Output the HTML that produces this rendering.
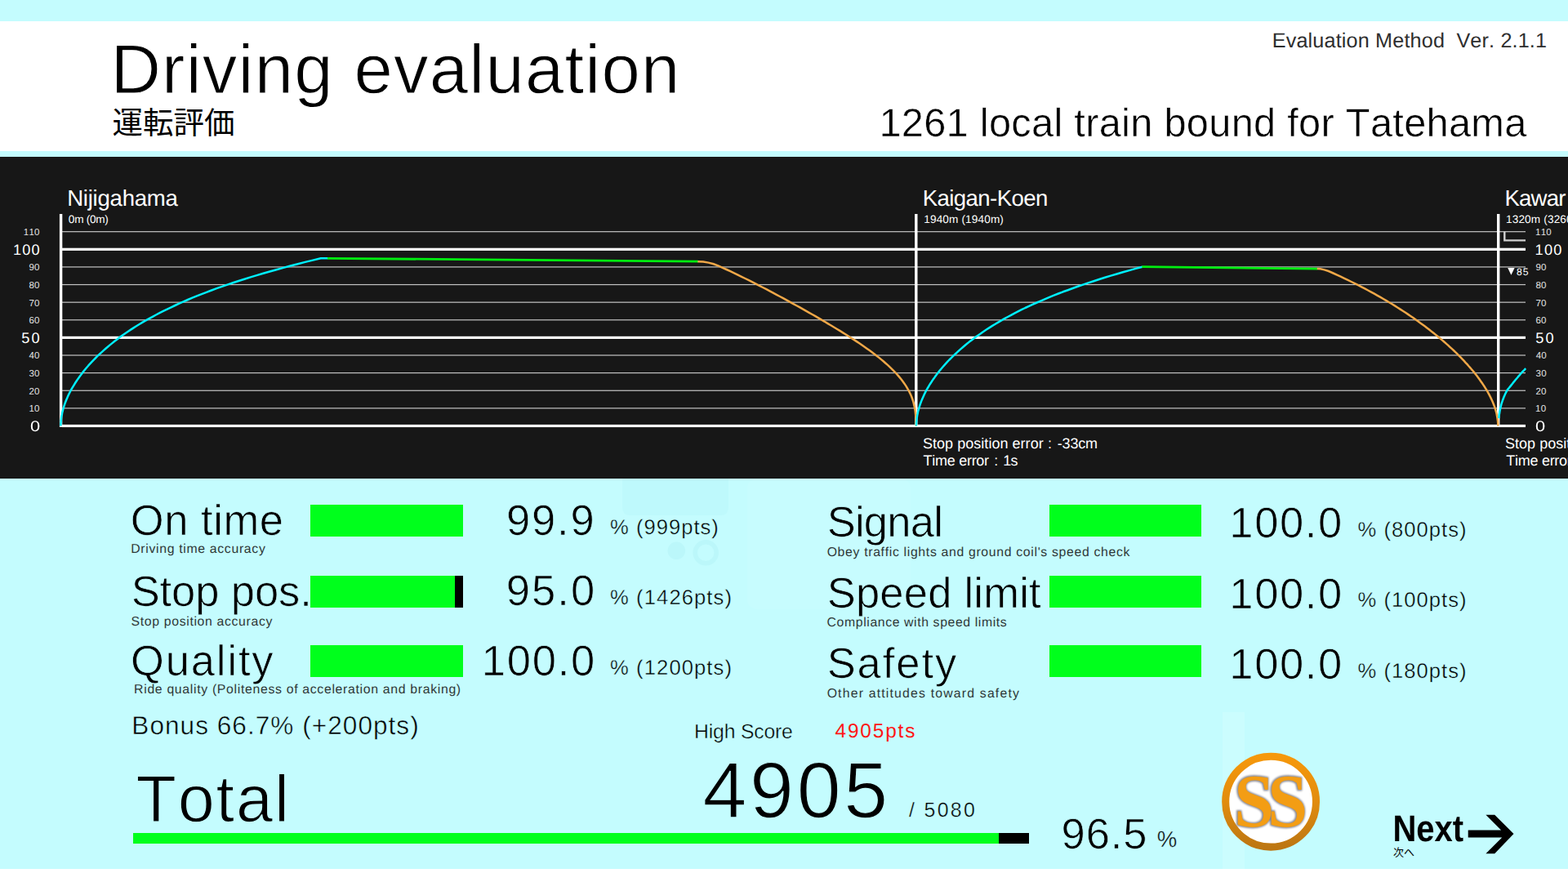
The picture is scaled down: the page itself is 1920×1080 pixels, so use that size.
<!DOCTYPE html>
<html lang="en"><head><meta charset="utf-8"><title>Driving evaluation</title>
<style>
html,body{margin:0;padding:0;overflow:hidden;background:#c4fcfe}
body{width:1920px;height:1080px;font-family:"Liberation Sans",sans-serif}
#root{position:relative;width:1920px;height:1080px;overflow:hidden;background:#c4fcfe}
.a{position:absolute;display:block}
.t{position:absolute;white-space:nowrap;margin:0;font-kerning:none;font-variant-ligatures:none;text-rendering:geometricPrecision}
#hdr{left:0;top:25.5px;width:1920px;height:159px;background:#fff}
#panel{left:0;top:192px;width:1920px;height:394px;background:#171717}
#foot{left:0;top:1064px;width:1920px;height:16px;background:#fff}
</style></head><body><div id="root">
<div id="hdr" class="a"></div>
<div id="panel" class="a"></div>
<div id="foot" class="a"></div>
<svg class="a" style="left:0;top:586px" width="1920" height="478" viewBox="0 586 1920 478" aria-hidden="true">
<path d="M762 586H892V621Q892 631 882 631H772Q762 631 762 621Z" fill="#bef9fc"/>
<rect x="915" y="586" width="200" height="160" rx="12" fill="#c7fcfe"/>
<circle cx="828.3" cy="674.3" r="10.8" fill="#bbf7fa"/>
<circle cx="864.2" cy="676.8" r="13" fill="none" stroke="#bbf7fa" stroke-width="5.6"/>
<rect x="1497" y="872" width="27" height="192" fill="#cbfdfe"/>
</svg>
<svg class="a" style="left:0;top:192px" width="1920" height="394" viewBox="0 192 1920 394">
<rect x="76" y="283.08" width="1792" height="1.2" fill="#c4c4c4"/>
<rect x="76" y="326.32" width="1792" height="1.2" fill="#c4c4c4"/>
<rect x="76" y="347.94" width="1792" height="1.2" fill="#c4c4c4"/>
<rect x="76" y="369.56" width="1792" height="1.2" fill="#c4c4c4"/>
<rect x="76" y="391.18" width="1792" height="1.2" fill="#c4c4c4"/>
<rect x="76" y="434.42" width="1792" height="1.2" fill="#c4c4c4"/>
<rect x="76" y="456.04" width="1792" height="1.2" fill="#c4c4c4"/>
<rect x="76" y="477.66" width="1792" height="1.2" fill="#c4c4c4"/>
<rect x="76" y="499.28" width="1792" height="1.2" fill="#c4c4c4"/>
<rect x="76" y="303.70" width="1792" height="3.2" fill="#fff"/>
<rect x="76" y="411.80" width="1792" height="3.2" fill="#fff"/>
<rect x="76" y="519.90" width="1792" height="3.2" fill="#fff"/>
<rect x="72.9" y="262" width="3.4" height="261.0" fill="#fff"/>
<rect x="1120.1" y="262" width="3.4" height="261.0" fill="#fff"/>
<rect x="1833" y="262" width="3.4" height="261.0" fill="#fff"/>
<path d="M1842.3 283.5V294.4H1868" fill="none" stroke="#cfcfcf" stroke-width="2.4"/>
<path d="M74.4 521.5 L74.4 519.2 L74.6 516.9 L74.7 514.6 L75.0 512.3 L75.3 510.0 L75.8 507.7 L76.2 505.4 L76.8 503.1 L77.4 500.8 L78.1 498.4 L78.8 496.1 L79.6 493.8 L80.5 491.5 L81.4 489.2 L82.4 486.9 L83.4 484.6 L84.5 482.3 L85.7 480.0 L86.9 477.7 L88.2 475.4 L89.6 473.1 L91.0 470.8 L92.4 468.5 L93.9 466.2 L95.5 463.9 L97.2 461.6 L98.9 459.3 L100.6 457.0 L102.4 454.6 L104.3 452.3 L106.2 450.0 L108.2 447.7 L110.3 445.4 L112.4 443.1 L114.6 440.8 L116.9 438.5 L119.2 436.2 L121.6 433.9 L124.1 431.6 L126.6 429.3 L129.2 427.0 L131.9 424.7 L134.7 422.4 L137.5 420.1 L140.4 417.8 L143.5 415.5 L146.5 413.1 L149.7 410.8 L153.0 408.5 L156.3 406.2 L159.8 403.9 L163.3 401.6 L167.0 399.3 L170.7 397.0 L174.6 394.7 L178.5 392.4 L182.6 390.1 L186.8 387.8 L191.1 385.5 L195.5 383.2 L200.0 380.9 L204.7 378.6 L209.5 376.3 L214.4 374.0 L219.4 371.7 L224.6 369.3 L230.0 367.0 L235.5 364.7 L241.1 362.4 L246.9 360.1 L252.9 357.8 L259.0 355.5 L265.3 353.2 L271.8 350.9 L278.4 348.6 L285.2 346.3 L292.2 344.0 L299.4 341.7 L306.8 339.4 L314.4 337.1 L322.3 334.8 L330.3 332.5 L338.5 330.2 L347.0 327.9 L355.7 325.5 L364.6 323.2 L373.7 320.9 L383.1 318.6 L392.8 316.3 L401.5 316.3" fill="none" stroke="#00f0ff" stroke-width="2.5" stroke-linejoin="round" stroke-linecap="butt"/>
<path d="M401.0 316.3 L855.0 320.2" fill="none" stroke="#00ee10" stroke-width="2.8" stroke-linejoin="round" stroke-linecap="butt"/>
<path d="M1121.6 521.5 L1121.6 519.3 L1121.6 517.1 L1121.5 514.9 L1121.5 512.7 L1121.4 510.5 L1121.2 508.3 L1121.0 506.1 L1120.8 503.9 L1120.5 501.7 L1120.1 499.5 L1119.6 497.3 L1119.1 495.1 L1118.6 492.9 L1117.9 490.7 L1117.2 488.5 L1116.4 486.3 L1115.5 484.1 L1114.5 481.9 L1113.4 479.7 L1112.2 477.5 L1111.0 475.3 L1109.7 473.1 L1108.2 470.9 L1106.7 468.7 L1105.1 466.5 L1103.4 464.3 L1101.6 462.1 L1099.7 459.9 L1097.8 457.7 L1095.7 455.5 L1093.6 453.3 L1091.3 451.1 L1089.0 448.9 L1086.6 446.7 L1084.1 444.5 L1081.6 442.3 L1079.0 440.1 L1076.3 437.9 L1073.5 435.7 L1070.6 433.5 L1067.7 431.3 L1064.7 429.1 L1061.7 426.9 L1058.6 424.7 L1055.4 422.5 L1052.2 420.3 L1048.9 418.1 L1045.5 415.9 L1042.1 413.7 L1038.7 411.5 L1035.2 409.3 L1031.7 407.1 L1028.2 404.9 L1024.6 402.7 L1020.9 400.5 L1017.2 398.3 L1013.5 396.1 L1009.8 393.8 L1006.0 391.6 L1002.2 389.4 L998.4 387.2 L994.6 385.0 L990.7 382.8 L986.8 380.6 L982.9 378.4 L979.0 376.2 L975.0 374.0 L971.0 371.8 L967.0 369.6 L963.0 367.4 L959.0 365.2 L954.9 363.0 L950.8 360.8 L946.7 358.6 L942.5 356.4 L938.4 354.2 L934.1 352.0 L929.9 349.8 L925.6 347.6 L921.3 345.4 L916.9 343.2 L912.5 341.0 L908.0 338.8 L903.5 336.6 L898.9 334.4 L894.3 332.2 L889.6 330.0 L884.8 327.8 L879.9 325.6 Q867.9 320.2 854.4 320.2" fill="none" stroke="#f0a848" stroke-width="2.5" stroke-linejoin="round" stroke-linecap="butt"/>
<path d="M1122.0 521.5 L1122.0 519.3 L1122.1 517.1 L1122.3 514.9 L1122.6 512.7 L1122.9 510.6 L1123.2 508.4 L1123.7 506.2 L1124.1 504.0 L1124.7 501.8 L1125.3 499.6 L1126.0 497.4 L1126.7 495.2 L1127.5 493.0 L1128.3 490.9 L1129.2 488.7 L1130.2 486.5 L1131.2 484.3 L1132.2 482.1 L1133.3 479.9 L1134.5 477.7 L1135.7 475.5 L1137.0 473.3 L1138.3 471.2 L1139.7 469.0 L1141.1 466.8 L1142.6 464.6 L1144.2 462.4 L1145.7 460.2 L1147.4 458.0 L1149.1 455.8 L1150.8 453.6 L1152.6 451.5 L1154.5 449.3 L1156.4 447.1 L1158.4 444.9 L1160.4 442.7 L1162.5 440.5 L1164.7 438.3 L1166.9 436.1 L1169.2 434.0 L1171.5 431.8 L1173.9 429.6 L1176.4 427.4 L1178.9 425.2 L1181.5 423.0 L1184.2 420.8 L1186.9 418.6 L1189.8 416.4 L1192.7 414.3 L1195.6 412.1 L1198.7 409.9 L1201.8 407.7 L1205.0 405.5 L1208.3 403.3 L1211.7 401.1 L1215.2 398.9 L1218.8 396.7 L1222.4 394.6 L1226.2 392.4 L1230.0 390.2 L1234.0 388.0 L1238.1 385.8 L1242.2 383.6 L1246.5 381.4 L1250.9 379.2 L1255.4 377.0 L1260.0 374.9 L1264.8 372.7 L1269.7 370.5 L1274.7 368.3 L1279.8 366.1 L1285.1 363.9 L1290.5 361.7 L1296.0 359.5 L1301.7 357.3 L1307.6 355.2 L1313.6 353.0 L1319.7 350.8 L1326.0 348.6 L1332.5 346.4 L1339.2 344.2 L1346.0 342.0 L1353.0 339.8 L1360.1 337.6 L1367.5 335.5 L1375.0 333.3 L1382.8 331.1 L1390.7 328.9 L1398.9 326.7" fill="none" stroke="#00f0ff" stroke-width="2.5" stroke-linejoin="round" stroke-linecap="butt"/>
<path d="M1398.4 326.7 L1613.2 329.1" fill="none" stroke="#00ee10" stroke-width="2.8" stroke-linejoin="round" stroke-linecap="butt"/>
<path d="M1834.3 521.5 L1834.3 519.4 L1834.2 517.3 L1834.0 515.2 L1833.7 513.1 L1833.4 511.0 L1833.0 508.9 L1832.6 506.8 L1832.1 504.7 L1831.5 502.6 L1830.9 500.5 L1830.2 498.4 L1829.4 496.3 L1828.6 494.2 L1827.7 492.1 L1826.8 490.0 L1825.8 487.9 L1824.8 485.8 L1823.7 483.7 L1822.6 481.6 L1821.4 479.5 L1820.2 477.4 L1818.9 475.3 L1817.6 473.2 L1816.2 471.1 L1814.8 469.0 L1813.3 466.9 L1811.8 464.8 L1810.3 462.7 L1808.7 460.6 L1807.1 458.5 L1805.4 456.4 L1803.7 454.3 L1801.9 452.2 L1800.1 450.1 L1798.2 448.0 L1796.4 445.9 L1794.4 443.8 L1792.5 441.7 L1790.5 439.6 L1788.4 437.4 L1786.3 435.3 L1784.2 433.2 L1782.1 431.1 L1779.9 429.0 L1777.6 426.9 L1775.3 424.8 L1773.0 422.7 L1770.7 420.6 L1768.3 418.5 L1765.8 416.4 L1763.3 414.3 L1760.8 412.2 L1758.3 410.1 L1755.7 408.0 L1753.0 405.9 L1750.3 403.8 L1747.6 401.7 L1744.8 399.6 L1742.0 397.5 L1739.1 395.4 L1736.2 393.3 L1733.3 391.2 L1730.3 389.1 L1727.2 387.0 L1724.1 384.9 L1721.0 382.8 L1717.8 380.7 L1714.5 378.6 L1711.2 376.5 L1707.9 374.4 L1704.5 372.3 L1701.0 370.2 L1697.5 368.1 L1693.9 366.0 L1690.3 363.9 L1686.6 361.8 L1682.8 359.7 L1679.0 357.6 L1675.1 355.5 L1671.2 353.4 L1667.2 351.3 L1663.1 349.2 L1659.0 347.1 L1654.7 345.0 L1650.4 342.9 L1646.1 340.8 L1641.6 338.7 L1637.1 336.6 L1632.5 334.5 Q1620.6 329.1 1612.7 329.1" fill="none" stroke="#f0a848" stroke-width="2.5" stroke-linejoin="round" stroke-linecap="butt"/>
<path d="M1835.3 512.2 L1835.5 510.6 L1835.6 509.1 L1835.8 507.5 L1836.1 506.0 L1836.3 504.4 L1836.6 502.8 L1836.9 501.3 L1837.2 499.7 L1837.6 498.1 L1838.0 496.6 L1838.4 495.0 L1838.9 493.4 L1839.4 491.9 L1839.9 490.3 L1840.5 488.8 L1841.1 487.2 L1841.7 485.6 L1842.4 484.1 L1843.1 482.5 L1843.9 480.9 L1844.7 479.4 L1845.6 477.8 L1846.7 476.2 L1848.0 474.7 L1849.3 473.1 L1850.5 471.6 L1851.8 470.0 L1853.0 468.4 L1854.3 466.9 L1855.6 465.3 L1856.9 463.7 L1858.2 462.2 L1859.5 460.6 L1860.9 459.1 L1862.2 457.5 L1863.7 455.9 L1865.1 454.4 L1866.7 452.8 L1868.2 451.2" fill="none" stroke="#00f0ff" stroke-width="2.5" stroke-linejoin="round" stroke-linecap="butt"/>
</svg>
<div class="t" style="left:135.47px;top:34.55px;font-size:85.1px;line-height:102px;letter-spacing:1.204px;color:#000;-webkit-text-stroke:1.1px #fff;">Driving evaluation</div>
<svg class="a" style="left:138px;top:133.4px;overflow:visible" width="149.0" height="33.8" viewBox="0 0 149.0 33.8" role="img" aria-label="運転評価"><text x="-0.5" y="30.5" font-size="37.5" fill="#000" font-family="'Liberation Sans','Noto Sans CJK JP',sans-serif">運転評価</text></svg>
<div class="t" style="left:1557.73px;top:34.80px;font-size:25.2px;line-height:30px;letter-spacing:0.160px;color:#2e2e2e;white-space:pre;">Evaluation Method  Ver. 2.1.1</div>
<div class="t" style="left:1076.44px;top:122.05px;font-size:48.73px;line-height:58px;letter-spacing:0.298px;color:#000;-webkit-text-stroke:0.5px #fff;">1261 local train bound for Tatehama</div>
<div class="t" style="left:82.14px;top:225.80px;font-size:27.6px;line-height:33px;letter-spacing:-0.245px;color:#fff;">Nijigahama</div>
<div class="t" style="left:83.87px;top:260.70px;font-size:13.6px;line-height:16px;letter-spacing:-0.274px;color:#fff;">0m (0m)</div>
<div class="t" style="left:1129.74px;top:225.80px;font-size:27.6px;line-height:33px;letter-spacing:-0.593px;color:#fff;">Kaigan-Koen</div>
<div class="t" style="left:1131.26px;top:260.70px;font-size:13.6px;line-height:16px;letter-spacing:0.140px;color:#fff;">1940m (1940m)</div>
<div class="t" style="left:1842.44px;top:225.80px;font-size:27.6px;line-height:33px;letter-spacing:-0.827px;color:#fff;">Kawar</div>
<div class="t" style="left:1843.96px;top:260.70px;font-size:13.6px;line-height:16px;letter-spacing:0.156px;color:#fff;white-space:pre;">1320m (3260m)</div>
<div class="t" style="left:1129.98px;top:531.70px;font-size:18px;line-height:22px;letter-spacing:0.036px;color:#fff;">Stop position error</div>
<div class="t" style="left:1282.96px;top:531.70px;font-size:18px;line-height:22px;letter-spacing:0.000px;color:#fff;">:</div>
<div class="t" style="left:1294.80px;top:531.70px;font-size:18px;line-height:22px;letter-spacing:-0.206px;color:#fff;">-33cm</div>
<div class="t" style="left:1130.60px;top:552.60px;font-size:18px;line-height:22px;letter-spacing:-0.278px;color:#fff;">Time error</div>
<div class="t" style="left:1217.36px;top:552.60px;font-size:18px;line-height:22px;letter-spacing:0.000px;color:#fff;">:</div>
<div class="t" style="left:1228.13px;top:552.60px;font-size:18px;line-height:22px;letter-spacing:-0.689px;color:#fff;">1s</div>
<div class="t" style="left:1842.98px;top:531.80px;font-size:18px;line-height:22px;letter-spacing:0.036px;color:#fff;">Stop position error</div>
<div class="t" style="left:1844.30px;top:552.70px;font-size:18px;line-height:22px;letter-spacing:-0.278px;color:#fff;">Time error</div>
<svg class="a" style="left:1846px;top:328px" width="9" height="9" viewBox="0 0 9 9"><path d="M0.2 0H8.6L4.4 8.8Z" fill="#fff"/></svg>
<div class="t" style="left:1857.07px;top:325.80px;font-size:12.2px;line-height:15px;letter-spacing:0.872px;color:#fff;">85</div>
<div class="t" style="left:38.59px;top:511.06px;font-size:18.2px;line-height:22px;letter-spacing:0.000px;color:#fff;transform:scaleX(1.2);transform-origin:100% 0;">0</div>
<div class="t" style="left:1880.49px;top:511.06px;font-size:18.2px;line-height:22px;letter-spacing:0.000px;color:#fff;transform:scaleX(1.2);transform-origin:0 0;">0</div>
<div class="t" style="left:35.46px;top:494.34px;font-size:11.5px;line-height:14px;letter-spacing:0.200px;color:#e4e4e4;">10</div>
<div class="t" style="left:1880.12px;top:494.34px;font-size:11.5px;line-height:14px;letter-spacing:0.200px;color:#e4e4e4;">10</div>
<div class="t" style="left:35.46px;top:472.72px;font-size:11.5px;line-height:14px;letter-spacing:0.200px;color:#e4e4e4;">20</div>
<div class="t" style="left:1880.42px;top:472.72px;font-size:11.5px;line-height:14px;letter-spacing:0.200px;color:#e4e4e4;">20</div>
<div class="t" style="left:35.46px;top:451.10px;font-size:11.5px;line-height:14px;letter-spacing:0.200px;color:#e4e4e4;">30</div>
<div class="t" style="left:1880.56px;top:451.10px;font-size:11.5px;line-height:14px;letter-spacing:0.200px;color:#e4e4e4;">30</div>
<div class="t" style="left:35.46px;top:429.48px;font-size:11.5px;line-height:14px;letter-spacing:0.200px;color:#e4e4e4;">40</div>
<div class="t" style="left:1880.74px;top:429.48px;font-size:11.5px;line-height:14px;letter-spacing:0.200px;color:#e4e4e4;">40</div>
<div class="t" style="left:26.27px;top:402.96px;font-size:18.2px;line-height:22px;letter-spacing:2.196px;color:#fff;">50</div>
<div class="t" style="left:1880.27px;top:402.96px;font-size:18.2px;line-height:22px;letter-spacing:2.196px;color:#fff;">50</div>
<div class="t" style="left:35.46px;top:386.24px;font-size:11.5px;line-height:14px;letter-spacing:0.200px;color:#e4e4e4;">60</div>
<div class="t" style="left:1880.42px;top:386.24px;font-size:11.5px;line-height:14px;letter-spacing:0.200px;color:#e4e4e4;">60</div>
<div class="t" style="left:35.46px;top:364.62px;font-size:11.5px;line-height:14px;letter-spacing:0.200px;color:#e4e4e4;">70</div>
<div class="t" style="left:1880.41px;top:364.62px;font-size:11.5px;line-height:14px;letter-spacing:0.200px;color:#e4e4e4;">70</div>
<div class="t" style="left:35.46px;top:343.00px;font-size:11.5px;line-height:14px;letter-spacing:0.200px;color:#e4e4e4;">80</div>
<div class="t" style="left:1880.50px;top:343.00px;font-size:11.5px;line-height:14px;letter-spacing:0.200px;color:#e4e4e4;">80</div>
<div class="t" style="left:35.46px;top:321.38px;font-size:11.5px;line-height:14px;letter-spacing:0.200px;color:#e4e4e4;">90</div>
<div class="t" style="left:1880.46px;top:321.38px;font-size:11.5px;line-height:14px;letter-spacing:0.200px;color:#e4e4e4;">90</div>
<div class="t" style="left:15.91px;top:294.86px;font-size:18.2px;line-height:22px;letter-spacing:1.216px;color:#fff;">100</div>
<div class="t" style="left:1879.61px;top:294.86px;font-size:18.2px;line-height:22px;letter-spacing:1.216px;color:#fff;">100</div>
<div class="t" style="left:28.86px;top:278.14px;font-size:11.5px;line-height:14px;letter-spacing:0.200px;color:#e4e4e4;">110</div>
<div class="t" style="left:1880.12px;top:278.14px;font-size:11.5px;line-height:14px;letter-spacing:0.200px;color:#e4e4e4;">110</div>
<div class="t" style="left:159.76px;top:605.85px;font-size:52.52px;line-height:63px;letter-spacing:0.558px;color:#000;-webkit-text-stroke:0.7px #c4fcfe;">On time</div>
<div class="t" style="left:160.20px;top:662.50px;font-size:15.8px;line-height:19px;letter-spacing:0.680px;color:#2f3838;">Driving time accuracy</div>
<div class="a" style="left:380px;top:618.1px;width:186.5px;height:38.9px;background:#000"><div style="width:186.5px;height:100%;background:#00ff1c"></div></div>
<div class="t" style="left:619.89px;top:605.65px;font-size:52.52px;line-height:63px;letter-spacing:1.910px;color:#000;-webkit-text-stroke:0.7px #c4fcfe;">99.9</div>
<div class="t" style="left:747.09px;top:630.60px;font-size:25.58px;line-height:31px;letter-spacing:1.012px;color:#000;-webkit-text-stroke:0.4px #c4fcfe;">% (999pts)</div>
<div class="t" style="left:160.67px;top:692.55px;font-size:52.52px;line-height:63px;letter-spacing:-0.090px;color:#000;-webkit-text-stroke:0.7px #c4fcfe;">Stop pos.</div>
<div class="t" style="left:160.58px;top:751.90px;font-size:15.8px;line-height:19px;letter-spacing:0.661px;color:#2f3838;">Stop position accuracy</div>
<div class="a" style="left:380px;top:704.6px;width:186.5px;height:39.4px;background:#000"><div style="width:177.2px;height:100%;background:#00ff1c"></div></div>
<div class="t" style="left:619.69px;top:691.95px;font-size:52.52px;line-height:63px;letter-spacing:2.098px;color:#000;-webkit-text-stroke:0.7px #c4fcfe;">95.0</div>
<div class="t" style="left:747.09px;top:716.70px;font-size:25.58px;line-height:31px;letter-spacing:1.098px;color:#000;-webkit-text-stroke:0.4px #c4fcfe;">% (1426pts)</div>
<div class="t" style="left:160.06px;top:778.25px;font-size:52.52px;line-height:63px;letter-spacing:1.855px;color:#000;-webkit-text-stroke:0.7px #c4fcfe;">Quality</div>
<div class="t" style="left:164.10px;top:835.30px;font-size:15.8px;line-height:19px;letter-spacing:0.685px;color:#2f3838;">Ride quality (Politeness of acceleration and braking)</div>
<div class="a" style="left:380px;top:789.6px;width:186.5px;height:39.7px;background:#000"><div style="width:186.5px;height:100%;background:#00ff1c"></div></div>
<div class="t" style="left:589.85px;top:778.35px;font-size:52.52px;line-height:63px;letter-spacing:1.731px;color:#000;-webkit-text-stroke:0.7px #c4fcfe;">100.0</div>
<div class="t" style="left:747.09px;top:803.00px;font-size:25.58px;line-height:31px;letter-spacing:1.098px;color:#000;-webkit-text-stroke:0.4px #c4fcfe;">% (1200pts)</div>
<div class="t" style="left:1012.67px;top:607.95px;font-size:52.52px;line-height:63px;letter-spacing:-0.739px;color:#000;-webkit-text-stroke:0.7px #c4fcfe;">Signal</div>
<div class="t" style="left:1012.65px;top:667.10px;font-size:15.8px;line-height:19px;letter-spacing:0.673px;color:#2f3838;">Obey traffic lights and ground coil's speed check</div>
<div class="a" style="left:1285px;top:618.1px;width:186px;height:38.9px;background:#000"><div style="width:186.0px;height:100%;background:#00ff1c"></div></div>
<div class="t" style="left:1505.35px;top:608.85px;font-size:52.52px;line-height:63px;letter-spacing:1.606px;color:#000;-webkit-text-stroke:0.7px #c4fcfe;">100.0</div>
<div class="t" style="left:1662.59px;top:633.90px;font-size:25.58px;line-height:31px;letter-spacing:1.023px;color:#000;-webkit-text-stroke:0.4px #c4fcfe;">% (800pts)</div>
<div class="t" style="left:1012.67px;top:694.85px;font-size:52.52px;line-height:63px;letter-spacing:0.216px;color:#000;-webkit-text-stroke:0.7px #c4fcfe;">Speed limit</div>
<div class="t" style="left:1012.60px;top:753.20px;font-size:15.8px;line-height:19px;letter-spacing:0.609px;color:#2f3838;">Compliance with speed limits</div>
<div class="a" style="left:1285px;top:704.7px;width:186px;height:39.3px;background:#000"><div style="width:186.0px;height:100%;background:#00ff1c"></div></div>
<div class="t" style="left:1505.35px;top:695.55px;font-size:52.52px;line-height:63px;letter-spacing:1.606px;color:#000;-webkit-text-stroke:0.7px #c4fcfe;">100.0</div>
<div class="t" style="left:1662.59px;top:720.40px;font-size:25.58px;line-height:31px;letter-spacing:1.023px;color:#000;-webkit-text-stroke:0.4px #c4fcfe;">% (100pts)</div>
<div class="t" style="left:1012.67px;top:781.15px;font-size:52.52px;line-height:63px;letter-spacing:1.939px;color:#000;-webkit-text-stroke:0.7px #c4fcfe;">Safety</div>
<div class="t" style="left:1012.65px;top:839.70px;font-size:15.8px;line-height:19px;letter-spacing:1.189px;color:#2f3838;">Other attitudes toward safety</div>
<div class="a" style="left:1285px;top:789.7px;width:186px;height:39.8px;background:#000"><div style="width:186.0px;height:100%;background:#00ff1c"></div></div>
<div class="t" style="left:1505.35px;top:782.15px;font-size:52.52px;line-height:63px;letter-spacing:1.606px;color:#000;-webkit-text-stroke:0.7px #c4fcfe;">100.0</div>
<div class="t" style="left:1662.59px;top:807.00px;font-size:25.58px;line-height:31px;letter-spacing:1.023px;color:#000;-webkit-text-stroke:0.4px #c4fcfe;">% (180pts)</div>
<div class="t" style="left:161.36px;top:868.85px;font-size:31.53px;line-height:38px;letter-spacing:1.052px;color:#000;-webkit-text-stroke:0.5px #c4fcfe;">Bonus 66.7% (+200pts)</div>
<div class="t" style="left:850.07px;top:882.20px;font-size:24.78px;line-height:30px;letter-spacing:-0.194px;color:#000;-webkit-text-stroke:0.4px #c4fcfe;">High Score</div>
<div class="t" style="left:1022.54px;top:881.40px;font-size:24.4px;line-height:29px;letter-spacing:1.852px;color:#ff1616;">4905pts</div>
<div class="t" style="left:166.38px;top:931.10px;font-size:80.94px;line-height:97px;letter-spacing:1.898px;color:#000;-webkit-text-stroke:1.2px #c4fcfe;">Total</div>
<div class="t" style="left:860.53px;top:909.85px;font-size:96.89px;line-height:116px;letter-spacing:3.683px;color:#000;-webkit-text-stroke:1.3px #c4fcfe;">4905</div>
<div class="t" style="left:1112.90px;top:976.70px;font-size:24.88px;line-height:30px;letter-spacing:2.360px;color:#000;-webkit-text-stroke:0.4px #c4fcfe;">/ 5080</div>
<div class="a" style="left:162.8px;top:1019.7px;width:1097.3px;height:13.2px;background:#000"><div style="width:1060.1px;height:100%;background:#00ff1c"></div></div>
<div class="t" style="left:1299.59px;top:990.35px;font-size:52.52px;line-height:63px;letter-spacing:0.883px;color:#000;-webkit-text-stroke:0.7px #c4fcfe;">96.5</div>
<div class="t" style="left:1416.82px;top:1010.80px;font-size:27.58px;line-height:33px;letter-spacing:0.000px;color:#000;-webkit-text-stroke:0.4px #c4fcfe;">%</div>
<svg class="a" style="left:1490px;top:915px" width="132" height="134" viewBox="1490 915 132 134">
<defs><linearGradient id="rg" x1="0" y1="0" x2="0" y2="1"><stop offset="0" stop-color="#f6980b"/><stop offset="0.5" stop-color="#e18c0e"/><stop offset="1" stop-color="#bd7612"/></linearGradient>
<filter id="sh" x="-20%" y="-20%" width="140%" height="140%"><feGaussianBlur stdDeviation="1.3"/></filter></defs>
<circle cx="1556.1" cy="981.7" r="55.4" fill="#fff" stroke="url(#rg)" stroke-width="9.1"/>
<g font-family="Liberation Serif, serif" font-weight="bold" font-size="92.7" letter-spacing="-8.6" text-rendering="geometricPrecision">
<text transform="translate(1510.5 1012) scale(0.955 1)" fill="#85858f" stroke="#85858f" stroke-width="2.6" filter="url(#sh)">SS</text>
<text transform="translate(1510.9 1011.6) scale(0.955 1)" fill="#f39d14">SS</text></g>
</svg>
<div class="t" style="left:1705.45px;top:986.70px;font-size:45.6px;line-height:55px;letter-spacing:0.000px;color:#000;font-weight:bold;transform:scaleX(0.877);transform-origin:3.05px 0;">Next</div>
<svg class="a" style="left:1706px;top:1037.7px;overflow:visible" width="25.7" height="10.2" viewBox="0 0 25.7 10.2" role="img" aria-label="次へ"><text x="0" y="9.8" font-size="13" fill="#000" font-family="'Liberation Sans','Noto Sans CJK JP',sans-serif">次へ</text></svg>
<svg class="a" style="left:1790px;top:990px" width="70" height="62" viewBox="1790 990 70 62">
<path d="M1819.4 997.8H1830.2L1853.5 1021L1830.2 1045.2H1819.4L1839.2 1025.4H1797.7V1016.5H1838.1Z" fill="#000"/>
</svg>
</div></body></html>
